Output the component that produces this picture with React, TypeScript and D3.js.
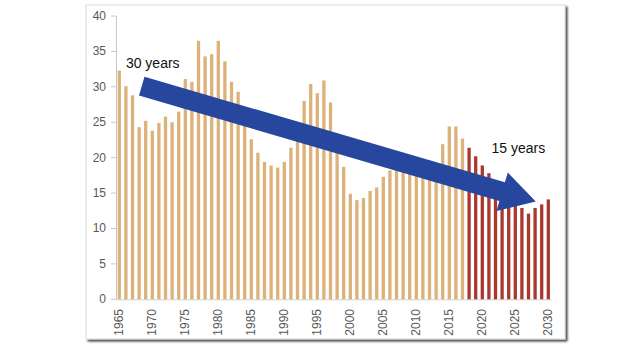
import React from "react";
import * as d3 from "d3";

const years: number[] = d3.range(1965, 2031);
const values: number[] = [
  32.3, 30.1, 28.8, 24.3, 25.2, 23.8, 24.9, 25.8, 25.0, 26.5,
  31.1, 30.7, 36.5, 34.3, 34.6, 36.5, 33.6, 30.7, 29.3, 24.5,
  22.6, 20.7, 19.4, 18.9, 18.6, 19.4, 21.4, 23.0, 28.0, 30.4,
  29.1, 30.9, 27.8, 21.0, 18.7, 14.9, 14.0, 14.3, 15.3, 15.8,
  17.3, 18.2, 18.5, 18.4, 18.2, 18.0, 17.8, 17.6, 17.5, 21.9,
  24.4, 24.4, 22.7, 21.4, 20.2, 18.9, 17.8, 16.7, 15.5, 14.6,
  13.6, 12.9, 12.1, 12.9, 13.4, 14.1,
];
const forecastStart = 2018;
const yTicks: number[] = [0, 5, 10, 15, 20, 25, 30, 35, 40];
const xTickYears: number[] = d3.range(1965, 2031, 5);

// annotation (data coordinates)
const arrowFrom = { year: 1968.4, value: 30.1 };
const arrowTo = { year: 2028.1, value: 13.8 };
const label1 = { text: "30 years", year: 1966.0, value: 32.7 };
const label2 = { text: "15 years", year: 2021.4, value: 20.6 };

export default function App() {
  const W = 640;
  const H = 360;
  const x = d3
    .scaleBand<number>()
    .domain(years)
    .range([116, 551.6])
    .paddingInner(0.5)
    .paddingOuter(0.25);
  const y = d3.scaleLinear().domain([0, 40]).range([299.3, 16]);
  const xc = (yr: number) => {
    const b0 = x(1965)! + x.bandwidth() / 2;
    return b0 + (yr - 1965) * x.step();
  };

  // arrow polygon
  const x0 = xc(arrowFrom.year);
  const y0 = y(arrowFrom.value);
  const x1 = xc(arrowTo.year);
  const y1 = y(arrowTo.value);
  const dx = x1 - x0;
  const dy = y1 - y0;
  const len = Math.hypot(dx, dy);
  const ux = dx / len;
  const uy = dy / len;
  const px = -uy;
  const py = ux;
  const shaftW = 19.5;
  const headW = 40;
  const headL = 35;
  const bx = x1 - ux * headL;
  const by = y1 - uy * headL;
  const pts: [number, number][] = [
    [x0 + (px * shaftW) / 2, y0 + (py * shaftW) / 2],
    [bx + (px * shaftW) / 2, by + (py * shaftW) / 2],
    [bx + (px * headW) / 2, by + (py * headW) / 2],
    [x1, y1],
    [bx - (px * headW) / 2, by - (py * headW) / 2],
    [bx - (px * shaftW) / 2, by - (py * shaftW) / 2],
    [x0 - (px * shaftW) / 2, y0 - (py * shaftW) / 2],
  ];
  const arrowPath = d3.line()(pts)! + "Z";

  const font = "Arial, 'Liberation Sans', sans-serif";

  return (
    <svg
      width={W}
      height={H}
      style={{ position: "absolute", left: 0, top: 0, background: "#fff" }}
    >
      <defs>
        <filter id="sh" x="-5%" y="-5%" width="110%" height="110%">
          <feGaussianBlur in="SourceAlpha" stdDeviation="1.2" />
          <feOffset dx="2" dy="2" result="b" />
          <feComponentTransfer>
            <feFuncA type="linear" slope="0.75" />
          </feComponentTransfer>
          <feMerge>
            <feMergeNode />
            <feMergeNode in="SourceGraphic" />
          </feMerge>
        </filter>
      </defs>
      <rect
        x={86}
        y={5}
        width={479}
        height={334}
        fill="#fff"
        stroke="#dcdcdc"
        strokeWidth={1}
        filter="url(#sh)"
      />
      {/* y axis */}
      <line x1={116.5} x2={116.5} y1={y(40)} y2={y(0)} stroke="#c8c8c8" />
      <line x1={116} x2={551.6} y1={y(0) + 0.5} y2={y(0) + 0.5} stroke="#d0d0d0" />
      {yTicks.map((t) => (
        <g key={t}>
          <line x1={111} x2={116} y1={y(t)} y2={y(t)} stroke="#c8c8c8" />
          <text
            x={106}
            y={y(t) + 4}
            textAnchor="end"
            fontSize={12}
            fill="#595959"
            fontFamily={font}
          >
            {t}
          </text>
        </g>
      ))}
      {/* bars */}
      {years.map((yr, i) => (
        <rect
          key={yr}
          x={x(yr)!}
          y={y(values[i])}
          width={x.bandwidth()}
          height={y(0) - y(values[i])}
          fill={yr >= forecastStart ? "#a9392f" : "#dcb27a"}
        />
      ))}
      {/* x labels */}
      {xTickYears.map((yr) => (
        <text
          key={yr}
          transform={`translate(${xc(yr) + 4},309) rotate(-90)`}
          textAnchor="end"
          fontSize={12}
          fill="#595959"
          fontFamily={font}
        >
          {yr}
        </text>
      ))}
      {/* arrow */}
      <path d={arrowPath} fill="#27479f" />
      <text x={xc(label1.year)} y={y(label1.value)} fontSize={14} fill="#111" fontFamily={font}>
        {label1.text}
      </text>
      <text x={xc(label2.year)} y={y(label2.value)} fontSize={14} fill="#111" fontFamily={font}>
        {label2.text}
      </text>
    </svg>
  );
}
